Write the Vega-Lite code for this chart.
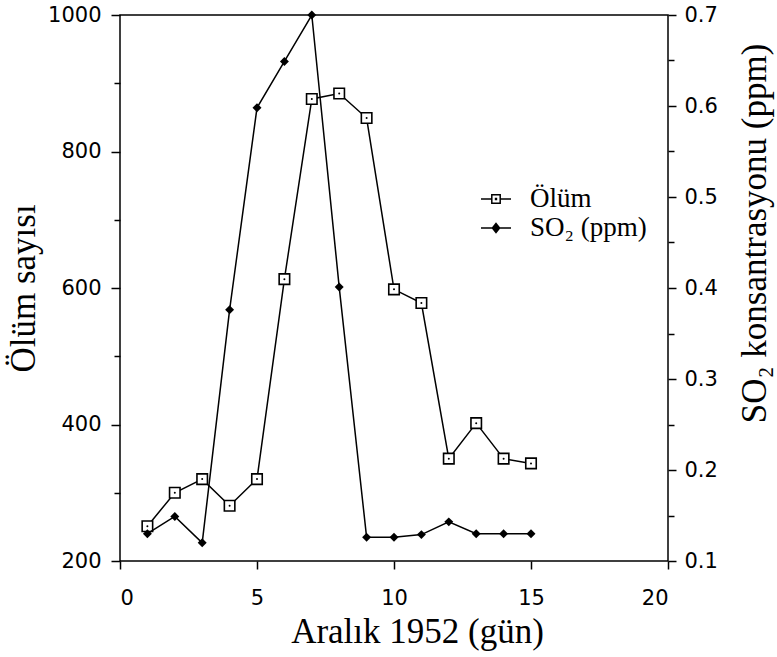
{
  "$schema": "https://vega.github.io/schema/vega-lite/v6.json",
  "width": 548,
  "height": 546,
  "autosize": {"type": "none"},
  "padding": {"left": 120, "top": 15, "right": 109, "bottom": 96},
  "background": "white",
  "config": {
    "view": {"stroke": "black", "strokeWidth": 1.5},
    "axis": {
      "domain": false,
      "grid": false,
      "tickColor": "black",
      "tickWidth": 1.5,
      "labelFont": "DejaVu Sans",
      "labelFontSize": 21,
      "labelColor": "black",
      "titleFont": "Liberation Serif",
      "titleFontSize": 35,
      "titleFontWeight": "normal",
      "titleColor": "black"
    }
  },
  "data": {
    "values": [
      {"gun": 1, "olum": 251, "so2": 0.130},
      {"gun": 2, "olum": 300, "so2": 0.149},
      {"gun": 3, "olum": 320, "so2": 0.120},
      {"gun": 4, "olum": 281, "so2": 0.376},
      {"gun": 5, "olum": 320, "so2": 0.598},
      {"gun": 6, "olum": 613, "so2": 0.649},
      {"gun": 7, "olum": 877, "so2": 0.700},
      {"gun": 8, "olum": 885, "so2": 0.401},
      {"gun": 9, "olum": 849, "so2": 0.126},
      {"gun": 10, "olum": 598, "so2": 0.126},
      {"gun": 11, "olum": 578, "so2": 0.129},
      {"gun": 12, "olum": 350, "so2": 0.143},
      {"gun": 13, "olum": 402, "so2": 0.130},
      {"gun": 14, "olum": 350, "so2": 0.130},
      {"gun": 15, "olum": 343, "so2": 0.130}
    ]
  },
  "encoding": {
    "x": {
      "field": "gun",
      "type": "quantitative",
      "scale": {"domain": [0, 20], "nice": false},
      "axis": {
        "title": "Aralık 1952 (gün)",
        "values": [0, 5, 10, 15, 20],
        "tickSize": 8,
        "labelPadding": 18,
        "titlePadding": 6,
        "titleX": 297
      }
    }
  },
  "layer": [
    {
      "encoding": {
        "y": {
          "field": "olum",
          "type": "quantitative",
          "scale": {"domain": [200, 1000], "nice": false},
          "axis": {
            "orient": "left",
            "title": "Ölüm sayısı",
            "values": [200, 300, 400, 500, 600, 700, 800, 900, 1000],
            "format": "d",
            "labelExpr": "datum.value % 200 === 0 ? datum.label : ''",
            "tickSize": {"condition": {"test": "datum.value % 200 === 0", "value": 9}, "value": 6},
            "labelPadding": 10,
            "titlePadding": 6
          }
        }
      },
      "layer": [
        {"mark": {"type": "line", "color": "black", "strokeWidth": 1.5}},
        {"mark": {"type": "point", "shape": "square", "filled": false, "fill": "white", "fillOpacity": 1, "stroke": "black", "strokeWidth": 1.6, "size": 110, "opacity": 1}},
        {"mark": {"type": "circle", "color": "black", "size": 4, "opacity": 1}},
        {
          "transform": [{"filter": "false"}],
          "mark": {"type": "point", "filled": false, "stroke": "black", "strokeWidth": 1.5, "opacity": 1},
          "encoding": {
            "shape": {
              "datum": "Ölüm",
              "type": "nominal",
              "scale": {
                "domain": ["Ölüm", "SO₂ (ppm)"],
                "range": [
                  "M-1,0H-0.28M0.28,0H1M-0.28,-0.28H0.28V0.28H-0.28ZM-0.03,-0.03H0.03V0.03H-0.03Z",
                  "M-1,0H1M0,-0.3L0.24,0L0,0.3L-0.24,0ZM0,-0.2L0.16,0L0,0.2L-0.16,0ZM0,-0.1L0.08,0L0,0.1L-0.08,0ZM0,-0.3V0.3"
                ]
              },
              "legend": {
                "title": null,
                "orient": "none",
                "legendX": 360,
                "legendY": 168,
                "padding": 0,
                "rowPadding": 0,
                "labelFont": "Liberation Serif",
                "labelFontSize": 27,
                "labelColor": "black",
                "labelOffset": 18,
                "symbolSize": 900,
                "symbolStrokeWidth": 1.5,
                "symbolStrokeColor": "black",
                "symbolOpacity": 1
              }
            }
          }
        }
      ]
    },
    {
      "encoding": {
        "y": {
          "field": "so2",
          "type": "quantitative",
          "scale": {"domain": [0.1, 0.7], "nice": false},
          "axis": {
            "orient": "right",
            "title": "SO₂ konsantrasyonu (ppm)",
            "titleAngle": 270,
            "titleBaseline": "top",
            "titleY": 218,
            "values": [0.1, 0.15, 0.2, 0.25, 0.3, 0.35, 0.4, 0.45, 0.5, 0.55, 0.6, 0.65, 0.7],
            "labelExpr": "round(datum.value * 100) % 10 === 0 ? format(datum.value, '.1f') : ''",
            "tickSize": {"condition": {"test": "round(datum.value * 100) % 10 === 0", "value": 8}, "value": 6},
            "labelPadding": 8,
            "titlePadding": 20
          }
        }
      },
      "layer": [
        {"mark": {"type": "line", "color": "black", "strokeWidth": 1.5}},
        {"mark": {"type": "point", "shape": "diamond", "filled": true, "color": "black", "size": 80, "opacity": 1}}
      ]
    }
  ],
  "resolve": {"scale": {"y": "independent"}}
}
